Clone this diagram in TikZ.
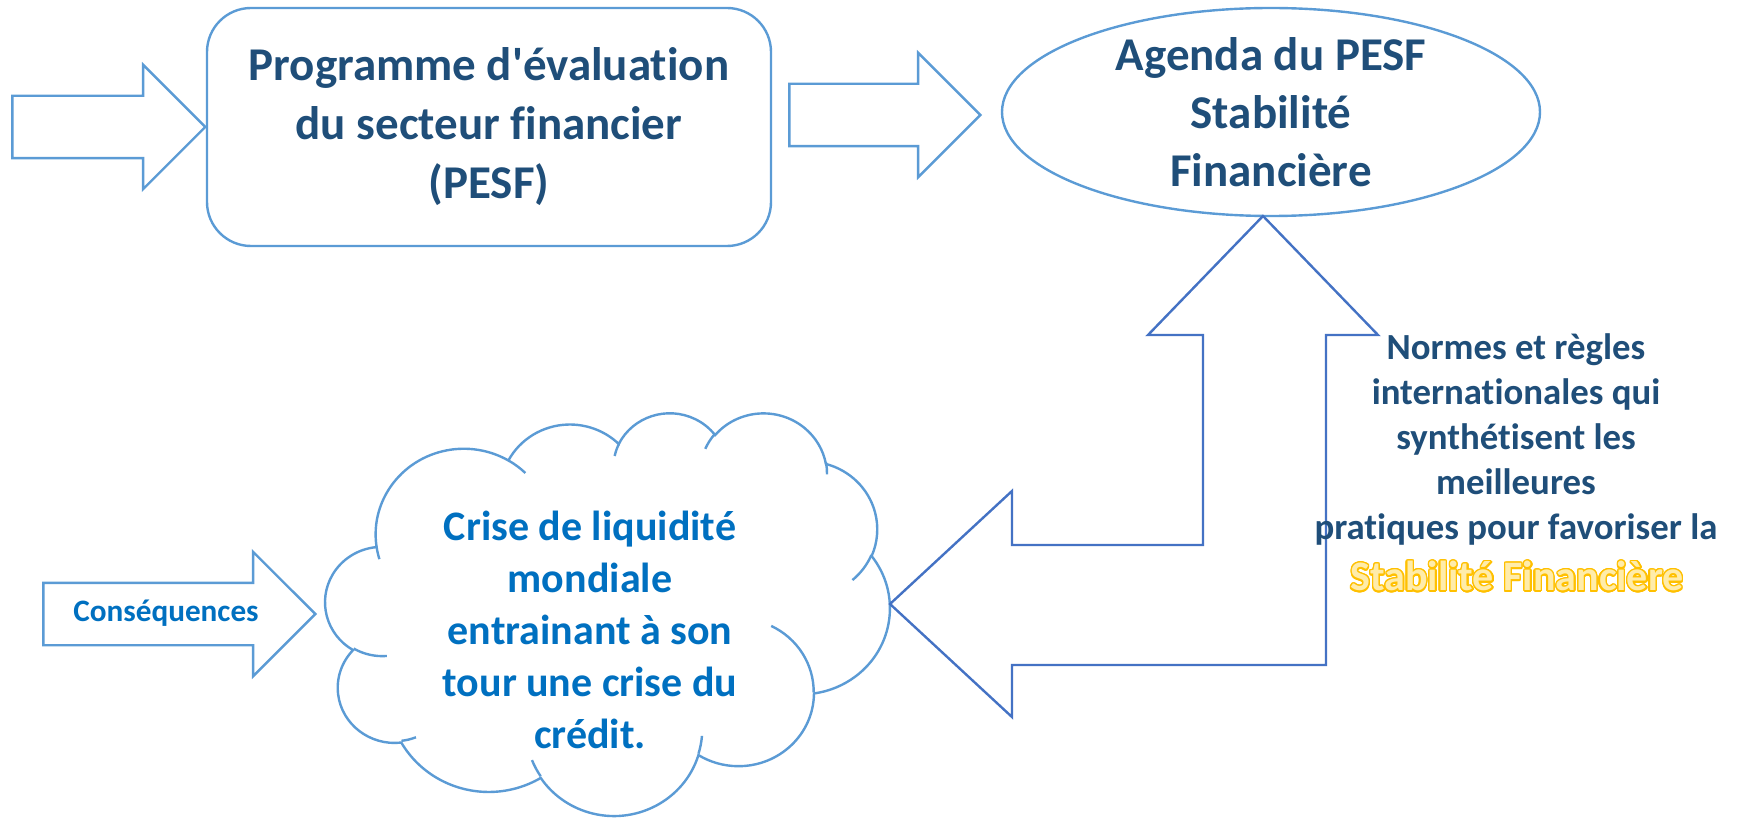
\documentclass[tikz,border=0pt]{standalone}
\usepackage{fontspec}
\setmainfont{Carlito}[Ligatures={TeXOff,CommonOff}]
\usepackage{contour}
\usetikzlibrary{positioning,shapes.geometric,shapes.arrows}
\definecolor{pesfline}{RGB}{91,155,213}
\definecolor{pesfdark}{RGB}{68,114,196}
\definecolor{pesfnavy}{RGB}{31,78,121}
\definecolor{pesfblue}{RGB}{0,112,192}
\definecolor{pesfgold}{RGB}{255,192,0}
\definecolor{pesfpale}{RGB}{255,236,170}
\tikzstyle{blockarrow} = [single arrow, draw=pesfline, line width=1.2pt, fill=white, inner xsep=0pt, inner ysep=15pt, single arrow head extend=15.5pt, single arrow tip angle=90, minimum width=61pt]
\tikzstyle{bentarrow} = [draw=pesfdark, line width=1.2pt, fill=white, line join=miter]
\tikzstyle{pesfbox} = [rectangle, rounded corners=22pt, draw=pesfline, line width=1.2pt, minimum width=282pt, minimum height=119pt]
\tikzstyle{pesfoval} = [ellipse, draw=pesfline, line width=1.2pt, minimum width=269pt, minimum height=104pt]
\tikzstyle{cloudline} = [draw=pesfline, line width=1.2pt]
\tikzstyle{navytext} = [text=pesfnavy, font=\fontsize{23.5}{29.5}\selectfont\bfseries, align=center]
\contourlength{0.7pt}
\contournumber{24}
\begin{document}
\begin{tikzpicture}[x=0.5pt, y=-0.5pt]
\useasboundingbox (0,0) rectangle (1752,818);

% top row: programme -> agenda
\node[blockarrow, minimum height=96.5pt, anchor=tip] (inarrow) at (207,127) {};
\node[pesfbox, navytext] (pesf) at (489,127) {Programme d'évaluation\\du secteur financier\\(PESF)};
\node[blockarrow, minimum height=95.5pt, anchor=tip] (linkarrow) at (982,115) {};
\node[pesfoval] (agenda) at (1271,112) {};
\node[navytext, font=\fontsize{23.5}{29}\selectfont\bfseries] (agendatxt) at (agenda.center) {Agenda du PESF\\Stabilité\\Financière};

% cloud (crise)
\begin{scope}[shift={(325.5,412)}, x=0.653pt, y=-0.466pt]
\draw[cloudline, fill=white] (39,143.7)
  arc[x radius=67.53, y radius=91.90, start angle=-187.746, end angle=-59.637]
  arc[x radius=53.33, y radius=72.67, start angle=-152.037, end angle=-45.460]
  arc[x radius=43.65, y radius=59.45, start angle=-153.494, end angle=-37.311]
  arc[x radius=48.57, y radius=65.95, start angle=-139.709, end angle=-10.212]
  arc[x radius=53.33, y radius=72.73, start angle=-74.768, end angle=23.213]
  arc[x radius=67.75, y radius=92.20, start angle=-37.509, end angle=81.862]
  arc[x radius=57.85, y radius=78.67, start angle=0.460, end angle=121.974]
  arc[x radius=67.52, y radius=92.15, start angle=16.843, end angle=146.228]
  arc[x radius=77.20, y radius=105.43, start angle=58.983, end angle=150.192]
  arc[x radius=43.60, y radius=59.18, start angle=-276.694, end angle=-136.898]
  arc[x radius=43.45, y radius=59.45, start angle=-239.652, end angle=-95.887]
  -- cycle;
% inner strokes of the cloud
\draw[cloudline] (46.93,261.77) arc[x radius=43.45, y radius=59.45, start angle=85.547, end angle=120.348];
\draw[cloudline] (69.28,348.99) arc[x radius=43.60, y radius=59.18, start angle=68.235, end angle=83.306];
\draw[cloudline] (164.78,390.90) arc[x radius=67.52, y radius=92.15, start angle=146.228, end angle=158.473];
\draw[cloudline] (288.27,347.51) arc[x radius=67.52, y radius=92.15, start angle=4.738, end angle=16.843];
\draw[cloudline] (341.29,229.54) arc[x radius=57.85, y radius=78.67, start angle=-64.030, end angle=0.460];
\draw[cloudline] (417.98,153.54) arc[x radius=53.33, y radius=72.73, start angle=23.213, end angle=49.689];
\draw[cloudline] (383.24,54.26) arc[x radius=48.57, y radius=65.95, start angle=-10.212, end angle=0.821];
\draw[cloudline] (290.78,39.52) arc[x radius=48.57, y radius=65.95, start angle=-156.281, end angle=-139.709];
\draw[cloudline] (221.41,47.20) arc[x radius=43.65, y radius=59.45, start angle=-167.726, end angle=-153.494];
\draw[cloudline] (140.00,51.92) arc[x radius=67.53, y radius=91.90, start angle=-59.637, end angle=-45.711];
\draw[cloudline] (41.27,157.89) arc[x radius=67.53, y radius=91.90, start angle=163.194, end angle=172.254];
\end{scope}
\node[text=pesfblue, font=\fontsize{21}{26}\selectfont\bfseries, align=center] (crise) at (590,630) {Crise de liquidité\\mondiale\\entrainant à son\\tour une crise du\\crédit.};

% consequences arrow
\node[blockarrow, minimum height=136pt, anchor=tip] (consarrow) at (317,614) {};
\node[text=pesfblue, font=\fontsize{15.6}{19}\selectfont\bfseries] (constxt) at (166,613) {Conséquences};

% bent arrow crise <-> agenda
\draw[bentarrow] (890,604) -- ++(122,-113) -- ++(0,54) -- ++(191,0) -- ++(0,-210) -- ++(-55,0)
  -- ++(115,-119) -- ++(115,119) -- ++(-52,0) -- ++(0,330) -- ++(-314,0) -- ++(0,52) -- cycle;

% normes
\node[text=pesfnavy, font=\fontsize{18.4}{22.5}\selectfont\bfseries, align=center] (normes) at (1516,439) {Normes et règles\\internationales qui\\synthétisent les\\meilleures\\pratiques pour favoriser la};
\node[font=\fontsize{21}{25}\selectfont\bfseries, text=pesfpale] (stabtxt) at (1517,577) {\contour{pesfgold}{Stabilité Financière}};
\end{tikzpicture}
\end{document}
